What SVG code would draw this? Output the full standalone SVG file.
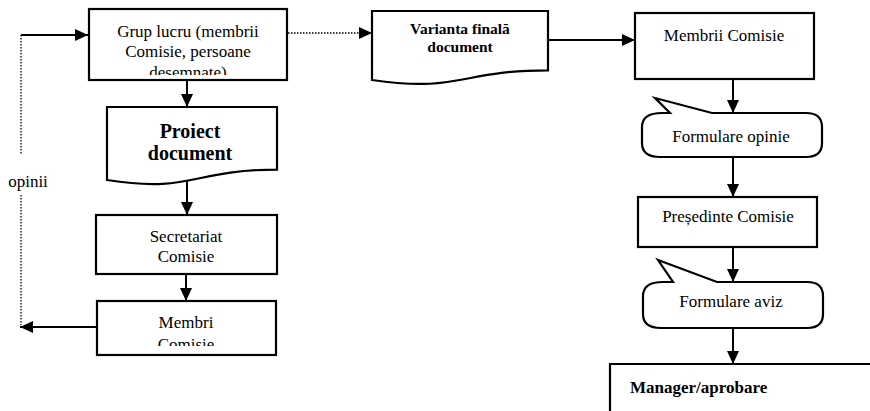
<svg xmlns="http://www.w3.org/2000/svg" width="870" height="411" viewBox="0 0 870 411">
<style>
.box{fill:#fff;stroke:#000;stroke-width:2.2}
text{font-family:'Liberation Serif','Times New Roman','DejaVu Serif',serif;font-size:17px;fill:#000;text-anchor:middle}
.b{font-weight:bold}
.c{fill:none;stroke:#000;stroke-width:2}
.d{fill:none;stroke:#000;stroke-width:1.3;stroke-dasharray:1.5 1.5}
</style>
<defs>
<marker id="ah" markerWidth="14" markerHeight="12" refX="13" refY="6" orient="auto" markerUnits="userSpaceOnUse">
<path d="M0,0 L13,6 L0,12 Z" fill="#000"/>
</marker>
<clipPath id="clipGrup"><rect x="89" y="9" width="198" height="66"/></clipPath>
<clipPath id="clipMembri"><rect x="97" y="301" width="179" height="45"/></clipPath>
</defs>
<rect width="870" height="411" fill="#fff"/>

<g font-family="Liberation Serif, Times New Roman, serif">
<g id="grup">
<rect class="box" x="89" y="9" width="198" height="71"/>
<g clip-path="url(#clipGrup)">
<text x="188" y="37">Grup lucru (membrii</text>
<text x="188" y="57">Comisie, persoane</text>
<text x="188" y="78">desemnate)</text>
</g>
</g>

<g id="proiect">
<path class="box" d="M107,107 H277 V169.6 C192,169.6 192,193.4 107,180 Z"/>
<text class="b" x="190" y="138" style="font-size:20px">Proiect</text>
<text class="b" x="190" y="160" style="font-size:20px">document</text>
</g>

<g id="secretariat">
<rect class="box" x="96" y="215" width="181" height="59"/>
<text x="186" y="242">Secretariat</text>
<text x="186" y="262">Comisie</text>
</g>

<g id="membri">
<rect class="box" x="97" y="301" width="179" height="54"/>
<g clip-path="url(#clipMembri)">
<text x="186" y="328">Membri</text>
<text x="186" y="350">Comisie</text>
</g>
</g>

<g id="opinii-label">
<text x="28" y="187">opinii</text>
</g>

<g id="varianta">
<path class="box" d="M372,11 H548 V70.3 C460,70.3 460,92.9 372,80 Z"/>
<text class="b" x="460" y="34" style="font-size:15.5px">Varianta finală</text>
<text class="b" x="460" y="52" style="font-size:15.5px">document</text>
</g>

<g id="membrii-comisie">
<rect class="box" x="635" y="13" width="179" height="66"/>
<text x="724" y="41">Membrii Comisie</text>
</g>

<g id="formulare-opinie">
<path class="box" d="M642,127 Q642,113 662,113 L670,113 L655,98 L712,113 L806,113 Q822,113 822,127 L822,143 Q822,157 806,157 L660,157 Q642,157 642,143 Z"/>
<text x="731" y="142">Formulare opinie</text>
</g>

<g id="presedinte">
<rect class="box" x="638" y="197" width="179" height="50"/>
<text x="728" y="222">Președinte Comisie</text>
</g>

<g id="formulare-aviz">
<path class="box" d="M643,296 Q643,282 663,282 L673,282 L658,260 L717,282 L807,282 Q823,282 823,296 L823,314 Q823,328 807,328 L661,328 Q643,328 643,314 Z"/>
<text x="731" y="307">Formulare aviz</text>
</g>

<g id="manager">
<path class="box" d="M610,420 V364 H880 V420"/>
<text class="b" x="630" y="393" style="text-anchor:start">Manager/aprobare</text>
</g>
</g>

<g id="connectors">
<path class="c" d="M21,35 H88" marker-end="url(#ah)"/>
<path class="d" d="M288,33 H372" marker-end="url(#ah)"/>
<path class="c" d="M187,80 V107" marker-end="url(#ah)"/>
<path class="c" d="M187,181 V215" marker-end="url(#ah)"/>
<path class="c" d="M186,274 V301" marker-end="url(#ah)"/>
<path class="c" d="M97,327 H20" marker-end="url(#ah)"/>
<path class="d" d="M21,35 V155 M21,195 V325"/>
<path class="c" d="M548,40 H635" marker-end="url(#ah)"/>
<path class="c" d="M733,79 V113" marker-end="url(#ah)"/>
<path class="c" d="M733,157 V197" marker-end="url(#ah)"/>
<path class="c" d="M733,247 V282" marker-end="url(#ah)"/>
<path class="c" d="M733,328 V364" marker-end="url(#ah)"/>
</g>
</svg>
